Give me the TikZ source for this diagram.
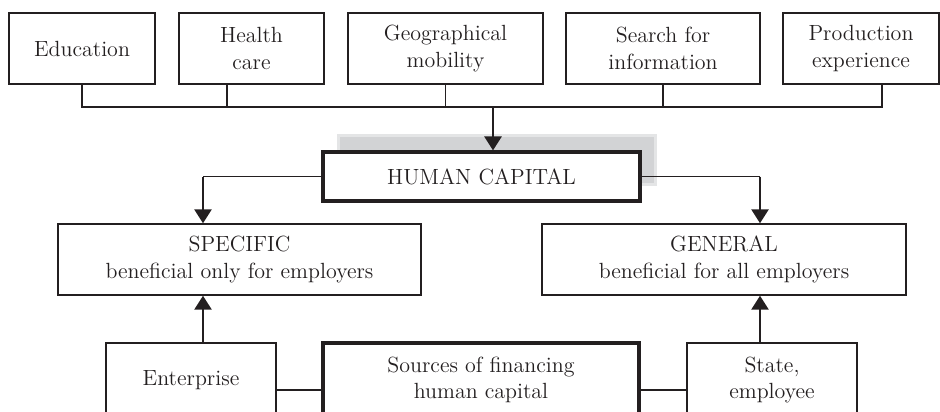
\documentclass[tikz,border=0pt]{standalone}
\usetikzlibrary{arrows.meta,shadows}
\definecolor{tinta}{RGB}{35,31,32}
\definecolor{sombra}{RGB}{210,211,213}
\tikzset{
  caja/.style={draw=tinta, line width=0.8pt, fill=white, align=center, text=tinta,
    minimum height=1.42cm, inner sep=2pt},
  cajagruesa/.style={caja, line width=1.8pt},
  flecha/.style={draw=tinta, line width=1.5pt, -{Triangle[length=0.28cm,width=0.34cm]}},
  linea/.style={draw=tinta, line width=0.8pt}
}
\begin{document}
\begin{tikzpicture}[font=\fontsize{12.5}{15}\selectfont]
		\useasboundingbox (0,0) rectangle (18.8,-8.22);
			% Cajas superiores
				\node[caja, minimum width=2.92cm] (edu) at (1.64,-0.97) {Education};
				\node[caja, minimum width=2.90cm] (salud) at (5.03,-0.97) {Health\\care};
				\node[caja, minimum width=3.90cm] (geo) at (8.91,-0.97) {Geographical\\mobility};
				\node[caja, minimum width=3.88cm] (busq) at (13.26,-0.97) {Search for\\information};
				\node[caja, minimum width=3.12cm] (prod) at (17.22,-0.97) {Production\\experience};
			% Barra
				\coordinate (barra) at (9.86,-2.14);
				\draw[linea] (edu.south) |- (barra) -| ([xshift=0.42cm]prod.south);
				\draw[linea] ([xshift=-0.49cm]salud.south) -- ([xshift=-0.49cm]salud.south |- barra);
				\draw[linea] (geo.south) -- (geo.south |- barra);
				\draw[linea] (busq.south) -- (busq.south |- barra);

			% Capital humano
				\node[cajagruesa, minimum width=6.34cm, minimum height=0.98cm,
				  drop shadow={shadow xshift=0.31cm, shadow yshift=0.33cm, fill=sombra, draw=sombra!60, opacity=1}]
				  (capital) at (9.63,-3.53) {HUMAN CAPITAL};
				\draw[flecha] (barra) -- (barra |- capital.north);

			% Tipos
				\node[caja, minimum width=7.26cm] (espec) at (4.79,-5.19) {SPECIFIC\\beneficial only for employers};
				\node[caja, minimum width=7.28cm] (gen) at (14.48,-5.19) {GENERAL\\beneficial for all employers};
				\draw[linea, line width=0.6pt] (capital.west) -- ([xshift=-0.73cm]espec.north |- capital.west);
				\draw[flecha] ([xshift=-0.73cm]espec.north |- capital.west) -- ([xshift=-0.73cm]espec.north);
				\draw[linea, line width=0.6pt] (capital.east) -- ([xshift=0.72cm]gen.north |- capital.east);
				\draw[flecha] ([xshift=0.72cm]gen.north |- capital.east) -- ([xshift=0.72cm]gen.north);

			% Fuentes
				\node[caja, minimum width=3.40cm, minimum height=1.48cm] (empresa) at (3.82,-7.6) {Enterprise};
				\node[cajagruesa, minimum width=6.32cm, minimum height=1.48cm] (fuentes) at (9.62,-7.6) {Sources of financing\\human capital};
				\node[caja, minimum width=3.40cm, minimum height=1.48cm] (estado) at (15.44,-7.6) {State,\\employee};
				\draw[linea] ([yshift=-0.2cm]empresa.east) -- ([yshift=-0.2cm]fuentes.west);
				\draw[linea] ([yshift=-0.2cm]fuentes.east) -- ([yshift=-0.2cm]estado.west);
				\draw[flecha] ([xshift=0.24cm]empresa.north) -- ([xshift=0.24cm]empresa.north |- espec.south);
				\draw[flecha] ([xshift=-0.24cm]estado.north) -- ([xshift=-0.24cm]estado.north |- gen.south);
\end{tikzpicture}
\end{document}
